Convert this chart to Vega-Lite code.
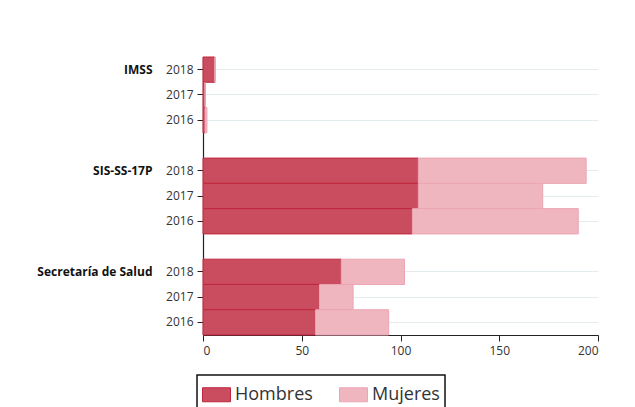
{
  "$schema": "https://vega.github.io/schema/vega-lite/v6.json",
  "width": 395,
  "height": 278,
  "padding": {"left": 36, "top": 56, "right": 5, "bottom": 5},
  "background": "white",
  "config": {
    "font": "Open Sans",
    "view": {"stroke": null},
    "axis": {"labelColor": "#333333", "domainColor": "#222222", "tickColor": "#222222", "labelFont": "Open Sans"},
    "legend": {"labelFont": "Open Sans"}
  },
  "data": {
    "values": [
      {"fila": "IMSS 2018", "sexo": "Hombres", "valor": 6},
      {"fila": "IMSS 2018", "sexo": "Mujeres", "valor": 0},
      {"fila": "IMSS 2017", "sexo": "Hombres", "valor": 1},
      {"fila": "IMSS 2017", "sexo": "Mujeres", "valor": 0},
      {"fila": "IMSS 2016", "sexo": "Hombres", "valor": 1},
      {"fila": "IMSS 2016", "sexo": "Mujeres", "valor": 1},
      {"fila": "SIS-SS-17P 2018", "sexo": "Hombres", "valor": 109},
      {"fila": "SIS-SS-17P 2018", "sexo": "Mujeres", "valor": 85},
      {"fila": "SIS-SS-17P 2017", "sexo": "Hombres", "valor": 109},
      {"fila": "SIS-SS-17P 2017", "sexo": "Mujeres", "valor": 63},
      {"fila": "SIS-SS-17P 2016", "sexo": "Hombres", "valor": 106},
      {"fila": "SIS-SS-17P 2016", "sexo": "Mujeres", "valor": 84},
      {"fila": "Secretaría de Salud 2018", "sexo": "Hombres", "valor": 70},
      {"fila": "Secretaría de Salud 2018", "sexo": "Mujeres", "valor": 32},
      {"fila": "Secretaría de Salud 2017", "sexo": "Hombres", "valor": 59},
      {"fila": "Secretaría de Salud 2017", "sexo": "Mujeres", "valor": 17},
      {"fila": "Secretaría de Salud 2016", "sexo": "Hombres", "valor": 57},
      {"fila": "Secretaría de Salud 2016", "sexo": "Mujeres", "valor": 37}
    ]
  },
  "layer": [
    {
      "mark": {"type": "bar", "strokeWidth": 1},
      "encoding": {
        "y": {
          "field": "fila",
          "type": "nominal",
          "scale": {
            "domain": ["IMSS 2018", "IMSS 2017", "IMSS 2016", "sep1", "SIS-SS-17P 2018", "SIS-SS-17P 2017", "SIS-SS-17P 2016", "sep2", "Secretaría de Salud 2018", "Secretaría de Salud 2017", "Secretaría de Salud 2016"],
            "paddingInner": 0,
            "paddingOuter": 0
          },
          "axis": {
            "title": null,
            "values": ["IMSS 2018", "IMSS 2017", "IMSS 2016", "SIS-SS-17P 2018", "SIS-SS-17P 2017", "SIS-SS-17P 2016", "Secretaría de Salud 2018", "Secretaría de Salud 2017", "Secretaría de Salud 2016"],
            "labelExpr": "slice(datum.label, -4)",
            "labelFontSize": 12,
            "labelPadding": 4,
            "tickSize": 6,
            "grid": true,
            "gridColor": "#e4ecef",
            "gridWidth": 1,
            "domainWidth": 1.2
          }
        },
        "x": {
          "field": "valor",
          "type": "quantitative",
          "stack": "zero",
          "scale": {"domain": [0, 200], "nice": false},
          "axis": {
            "title": null,
            "values": [0, 50, 100, 150, 200],
            "grid": false,
            "labelFontSize": 12,
            "tickSize": 6,
            "labelPadding": 4,
            "domainWidth": 1.2
          }
        },
        "color": {
          "field": "sexo",
          "type": "nominal",
          "scale": {"domain": ["Hombres", "Mujeres"], "range": ["#c94d5f", "#f0b6c0"]},
          "legend": {
            "title": null,
            "orient": "none",
            "legendX": -6,
            "legendY": 318,
            "direction": "horizontal",
            "symbolType": "M-1,-0.5H1V0.5H-1Z",
            "symbolSize": 784,
            "symbolStrokeWidth": 1,
            "labelFontSize": 18,
            "labelColor": "#333333",
            "labelOffset": 4,
            "columnPadding": 24,
            "padding": 5,
            "strokeColor": "#111111",
            "encode": {"legend": {"update": {"strokeWidth": {"value": 1.5}}}}
          }
        },
        "stroke": {
          "field": "sexo",
          "type": "nominal",
          "scale": {"domain": ["Hombres", "Mujeres"], "range": ["#c0263e", "#eba5b3"]},
          "legend": {
            "title": null,
            "orient": "none",
            "legendX": -6,
            "legendY": 318,
            "direction": "horizontal",
            "symbolType": "M-1,-0.5H1V0.5H-1Z",
            "symbolSize": 784,
            "symbolStrokeWidth": 1,
            "labelFontSize": 18,
            "labelColor": "#333333",
            "labelOffset": 4,
            "columnPadding": 24,
            "padding": 5,
            "strokeColor": "#111111",
            "encode": {"legend": {"update": {"strokeWidth": {"value": 1.5}}}}
          }
        },
        "order": {"field": "sexo", "sort": "ascending"}
      }
    },
    {
      "mark": {"type": "text", "text": ""},
      "encoding": {
        "y": {
          "field": "fila",
          "type": "nominal",
          "axis": {
            "orient": "left",
            "title": null,
            "values": ["IMSS 2018", "SIS-SS-17P 2018", "Secretaría de Salud 2018"],
            "labelExpr": "slice(datum.label, 0, -5)",
            "domain": false,
            "ticks": false,
            "grid": false,
            "labelPadding": 51,
            "labelFontSize": 12,
            "labelFontWeight": "bold",
            "labelColor": "#111111"
          }
        }
      }
    }
  ],
  "resolve": {"axis": {"y": "independent"}}
}
